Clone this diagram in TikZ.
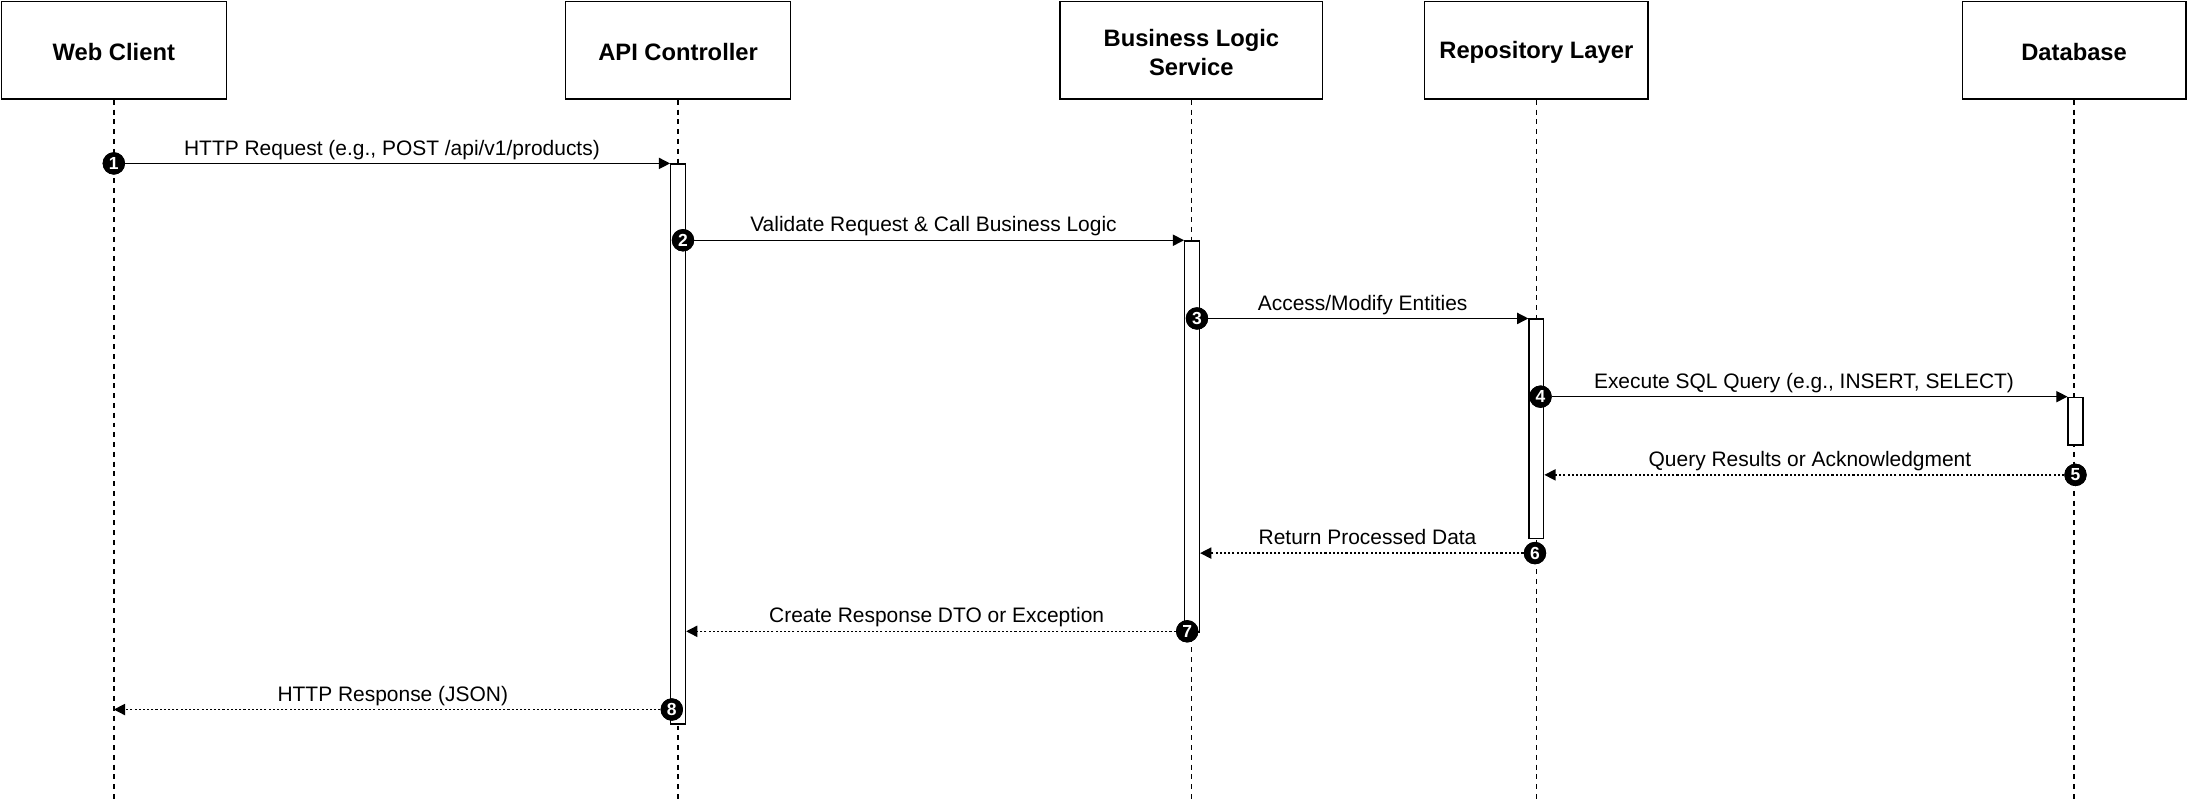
\documentclass[tikz,border=0pt]{standalone}
\usepackage{fontspec}
\setmainfont{Liberation Sans}
\usetikzlibrary{arrows.meta,calc}
\tikzset{
  actor/.style={draw, line width=1pt, fill=white, minimum height=70pt, inner sep=0pt, align=center, font=\fontsize{17}{21}\selectfont\bfseries},
  actortext/.style={inner sep=0pt, align=center, font=\fontsize{17}{21}\selectfont\bfseries},
  life/.style={line width=1pt, dash pattern=on 3.5pt off 3.5pt},
  actbar/.style={draw, line width=1pt, fill=white, minimum width=10.5pt, inner sep=0pt, anchor=north},
  num/.style={circle, fill=black, minimum size=16pt, inner sep=0pt, text=white, font=\fontsize{12.5}{12.5}\selectfont\bfseries},
  callmsg/.style={line width=1pt, -{Triangle[length=8pt,width=8pt]}},
  retmsg/.style={line width=1pt, dash pattern=on 1.5pt off 1.5pt, -{Triangle[length=8pt,width=8pt]}},
  lbl/.style={midway, anchor=base, yshift=6pt, inner sep=0pt, font=\fontsize{15}{18}\selectfont}
}
\begin{document}
\begin{tikzpicture}[x=1pt,y=-1pt]
\useasboundingbox (0,0) rectangle (1568,573);
% actors
\node[actor, minimum width=161pt] (wc) at (81.5,36) {};
\node[actor, minimum width=161pt] (api) at (485.5,36) {};
\node[actor, minimum width=188pt] (bls) at (853,36) {};
\node[actor, minimum width=160pt] (repo) at (1100,36) {};
\node[actor, minimum width=160pt] (db) at (1485,36) {};
\node[actortext] (wct) at (81.5,37.5) {Web Client};
\node[actortext] (apit) at (485.5,37.5) {API Controller};
\node[actortext] (blst) at (853,37.5) {Business Logic\\Service};
\node[actortext] (repot) at (1100,37.5) {Repository Layer};
\node[actortext] (dbt) at (1485,37.5) {Database};
% lifeline ends
\coordinate (wcend) at (81.5,573);
\coordinate (apiend) at (485.5,573);
\coordinate (blsend) at (853,573);
\coordinate (repoend) at (1100,573);
\coordinate (dbend) at (1485,573);
\draw[life] (wc.south) -- (wcend);
\draw[life] (api.south) -- (apiend);
\draw[life] (bls.south) -- (blsend);
\draw[life] (repo.south) -- (repoend);
\draw[life] (db.south) -- (dbend);
% activation bars
\node[actbar, minimum height=401pt] (apibar) at (485.5,117) {};
\node[actbar, minimum height=280pt] (blsbar) at (853.5,172) {};
\node[actbar, minimum height=157pt] (repobar) at (1100,228) {};
\node[actbar, minimum height=34pt] (dbbar) at (1486,284) {};
% numbered markers
\node[num] (n1) at (81.5,117) {1};
\node[num] (n2) at (489,172) {2};
\node[num] (n3) at (857,228) {3};
\node[num] (n4) at (1103,284) {4};
\node[num] (n5) at (1486,340) {5};
\node[num] (n6) at (1099,396) {6};
\node[num] (n7) at (850,452) {7};
\node[num] (n8) at (481,508) {8};
% messages
\draw[callmsg] (n1) -- (n1 -| apibar.west);
\draw[callmsg] (n2) -- (n2 -| blsbar.west);
\draw[callmsg] (n3) -- (n3 -| repobar.west);
\draw[callmsg] (n4) -- (n4 -| dbbar.west);
\draw[retmsg] (n5) -- (n5 -| repobar.east);
\draw[retmsg] (n6) -- (n6 -| blsbar.east);
\draw[retmsg] (n7) -- (n7 -| apibar.east);
\draw[retmsg] (n8) -- (n8 -| wc.south);
% labels centred on the full message span
\path (n1.center) -- node[lbl] {HTTP Request (e.g., POST /api/v1/products)} (n1 -| apibar.west);
\path (n2.center) -- node[lbl] {Validate Request \& Call Business Logic} (n2 -| blsbar.west);
\path (n3.center) -- node[lbl] {Access/Modify Entities} (n3 -| repobar.west);
\path (n4.center) -- node[lbl] {Execute SQL Query (e.g., INSERT, SELECT)} (n4 -| dbbar.west);
\path (n5.center) -- node[lbl] {Query Results or Acknowledgment} (n5 -| repobar.east);
\path (n6.center) -- node[lbl] {Return Processed Data} (n6 -| blsbar.east);
\path (n7.center) -- node[lbl] {Create Response DTO or Exception} (n7 -| apibar.east);
\path (n8.center) -- node[lbl] {HTTP Response (JSON)} (n8 -| wc.south);
% markers on top
\node[num] at (n1) {1};
\node[num] at (n2) {2};
\node[num] at (n3) {3};
\node[num] at (n4) {4};
\node[num] at (n5) {5};
\node[num] at (n6) {6};
\node[num] at (n7) {7};
\node[num] at (n8) {8};
\end{tikzpicture}
\end{document}
